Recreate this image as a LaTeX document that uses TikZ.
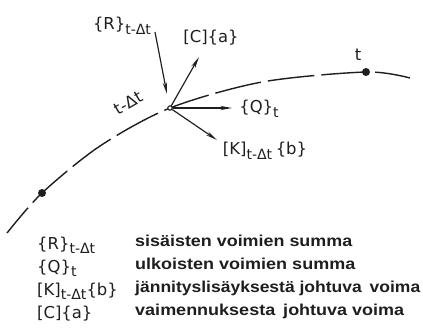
\documentclass[tikz,border=0pt]{standalone}
\usepackage{fontspec}
\setmainfont{DejaVu Sans}
\newfontfamily\legendfont{Liberation Sans}
\usetikzlibrary{arrows.meta}
\definecolor{inkgray}{HTML}{1e1e1e}
\newcommand{\subidx}[1]{\raisebox{-0.5ex}{\fontsize{12}{12}\selectfont #1}}
\newcommand{\legendrow}[2]{\resizebox{#1}{\height}{#2}}

\tikzset{
  force/.style={inkgray,line width=1pt,-{Stealth[length=10pt,width=3.6pt]}},
  orbit/.style={inkgray,line width=1.2pt,dash pattern=on 40pt off 6pt,dash phase=-34pt},
  lbl/.style={inkgray,font=\fontsize{14}{16}\selectfont,inner sep=0pt},
  desc/.style={inkgray,font=\legendfont\fontsize{13.5}{15}\selectfont\bfseries,anchor=base west,inner sep=0pt},
}

\begin{document}
\begin{tikzpicture}[x=0.03cm,y=-0.03cm]
  \useasboundingbox (0,0) rectangle (423,330);
  % path of the point
  \coordinate (p0) at (7,233);
  \coordinate (p1) at (42,193);
  \coordinate (pa) at (100,146);
  \coordinate (pb) at (262,82);
  \coordinate (p3) at (366,72);
  \coordinate (p4) at (410,78);
  \node[circle,draw=inkgray,fill=white,line width=0.8pt,inner sep=1.3pt] (o) at (170,108) {};
  \draw[orbit] plot[smooth,tension=0.5] coordinates {(p0) (p1) (pa) (o.center) (pb) (p3) (p4)};
  \fill[inkgray] (p1) circle[radius=3.4pt];
  \fill[inkgray] (p3) circle[radius=3.4pt];
  \node[circle,draw=inkgray,fill=white,line width=0.8pt,inner sep=1.3pt] at (o) {};

  % forces acting at time t-dt
  \coordinate (rs) at (155,32);
  \coordinate (rt) at (167,94);
  \coordinate (ce) at (199,57);
  \coordinate (qe) at (232,108);
  \coordinate (ke) at (217,140);
  \draw[force] (rs) -- (rt);
  \draw[force] (o) -- (ce);
  \draw[force] (o) -- (qe);
  \draw[force] (o) -- (ke);

  % labels
  \node[lbl] (lr) at (122,26) {\{R\}\subidx{t-Δt}};
  \node[lbl] (lc) at (211,38) {[C]\{a\}};
  \node[lbl] (lq) at (259,109) {\{Q\}\subidx{t}};
  \node[lbl] (lk) at (265,151) {[K]\subidx{t-Δt}\kern3pt\{b\}};
  \node[lbl] (lt) at (358,55) {t};
  \node[lbl,rotate=30] (ldt) at (128,103) {t-Δt};

  % legend
  \node[lbl,anchor=base west] (kr) at (37,249) {\{R\}\subidx{t-Δt}};
  \node[lbl,anchor=base west] (kq) at (37,272) {\{Q\}\subidx{t}};
  \node[lbl,anchor=base west] (kk) at (37,295) {[K]\subidx{t-Δt}\{b\}};
  \node[lbl,anchor=base west] (kc) at (37,318) {[C]\{a\}};
  \node[desc] (dr) at (135,246) {\legendrow{6.51cm}{sisäisten voimien summa}};
  \node[desc] (dq) at (135,269) {\legendrow{6.6cm}{ulkoisten voimien summa}};
  \node[desc] (dk) at (135,292) {\legendrow{8.55cm}{jännityslisäyksestä johtuva\, voima}};
  \node[desc] (dc) at (135,315) {\legendrow{8.07cm}{vaimennuksesta\, johtuva voima}};
\end{tikzpicture}
\end{document}
